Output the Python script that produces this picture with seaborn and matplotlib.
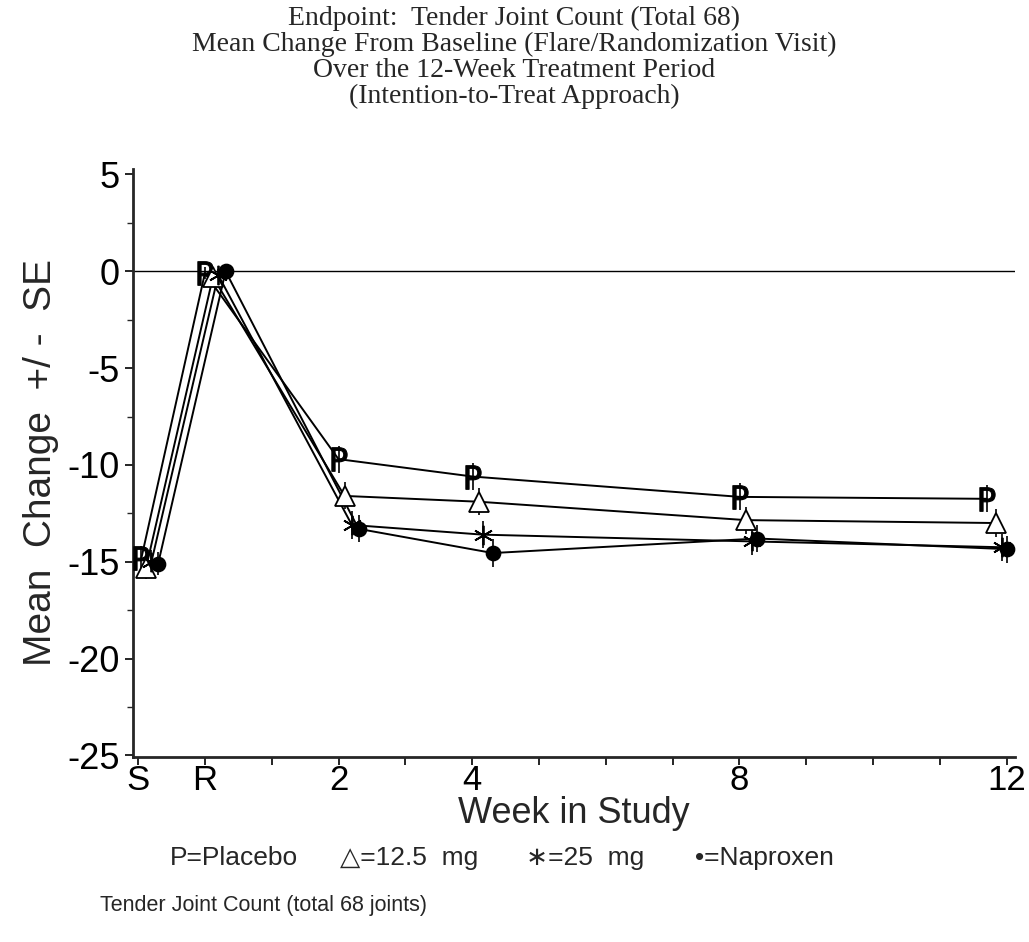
import numpy as np
import pandas as pd
import matplotlib
matplotlib.use("Agg")
import matplotlib.pyplot as plt
import seaborn as sns

# Data
groups = ["Placebo", "12.5 mg", "25 mg", "Naproxen"]
visit_labels = ["S", "R", "2", "4", "8", "12"]
visit_pos = [-1, 0, 2, 4, 8, 12]

week_placebo = [-0.95, 0.0, 2.0, 4.01, 8.01, 11.7]
week_125 = [-0.88, 0.12, 2.09, 4.1, 8.1, 11.84]
week_25 = [-0.8, 0.2, 2.2, 4.16, 8.19, 11.93]
week_naproxen = [-0.7, 0.31, 2.3, 4.31, 8.27, 12.01]

mean_placebo = [-14.8, -0.1, -9.7, -10.6, -11.65, -11.75]
mean_125 = [-15.3, -0.3, -11.6, -11.9, -12.85, -13.0]
mean_25 = [-15.0, -0.2, -13.1, -13.6, -13.95, -14.25]
mean_naproxen = [-15.1, 0.0, -13.3, -14.55, -13.8, -14.35]

se_placebo = [0.6, 0.3, 0.7, 0.7, 0.7, 0.7]
se_125 = [0.6, 0.3, 0.7, 0.7, 0.7, 0.7]
se_25 = [0.6, 0.3, 0.7, 0.7, 0.7, 0.7]
se_naproxen = [0.6, 0.3, 0.7, 0.7, 0.7, 0.7]

legend_entries = ["P=Placebo", "\u25b3=12.5  mg", "\u2217=25  mg", "\u2022=Naproxen"]

title_lines = [
    "Endpoint:  Tender Joint Count (Total 68)",
    "Mean Change From Baseline (Flare/Randomization Visit)",
    "Over the 12-Week Treatment Period",
    "(Intention-to-Treat Approach)",
]

df = pd.DataFrame({
    "group": np.repeat(groups, len(visit_pos)),
    "week": week_placebo + week_125 + week_25 + week_naproxen,
    "change": mean_placebo + mean_125 + mean_25 + mean_naproxen,
    "se": se_placebo + se_125 + se_25 + se_naproxen,
})

sns.set_style("ticks")
plt.rcParams["font.family"] = ["Liberation Sans", "DejaVu Sans"]
plt.rcParams["axes.unicode_minus"] = False

fig = plt.figure(figsize=(10.29, 9.42), dpi=100)
ax = fig.add_axes([0.129, 0.196, 0.857, 0.625])

ax.axhline(0, color="black", lw=1.0, zorder=1)

markers = {
    "Placebo": "$\\mathrm{P}$",
    "12.5 mg": "^",
    "25 mg": (6, 2, 0),
    "Naproxen": "o",
}
sizes = {"Placebo": 17, "12.5 mg": 14, "25 mg": 14, "Naproxen": 10}

for g in groups:
    sub = df[df["group"] == g]
    sns.lineplot(data=sub, x="week", y="change", color="black", lw=1.4,
                 sort=False, estimator=None, ax=ax, zorder=2)
    ax.vlines(sub["week"], sub["change"] - sub["se"], sub["change"] + sub["se"],
              color="black", lw=1.2, zorder=3)
    face = "white" if g == "12.5 mg" else "black"
    ax.plot(sub["week"], sub["change"], ls="none", marker=markers[g],
            ms=sizes[g], mfc=face, mec="black", mew=1.3 if g != "Placebo" else 0.8,
            zorder=4)

ax.set_xlim(-1.08, 12.12)
ax.set_ylim(-25.1, 5.3)
ax.set_xticks(np.arange(-1, 13))
ax.set_xticklabels(["S", "R", "", "2", "", "4", "", "", "", "8", "", "", "", "12"])
ax.set_yticks([5, 0, -5, -10, -15, -20, -25])
ax.set_yticks(np.arange(-25, 5.1, 2.5), minor=True)
ax.tick_params(axis="both", labelsize=26, direction="out", length=6, width=1.2,
               colors="black")
ax.tick_params(axis="x", labelsize=25, pad=-1)
ax.tick_params(axis="y", which="minor", length=4, width=1.0)

ax.set_xlabel("Week in Study", fontsize=26, labelpad=-1)
ax.set_ylabel("Mean  Change  +/ -  SE", fontsize=28, labelpad=6)

for side in ["top", "right"]:
    ax.spines[side].set_visible(False)
for side in ["left", "bottom"]:
    ax.spines[side].set_linewidth(2.0)

title_y = [0.980, 0.953, 0.925, 0.898]
for line, yy in zip(title_lines, title_y):
    fig.text(0.5, yy, line, ha="center", va="center", fontsize=20,
             family=["Liberation Serif", "DejaVu Serif"])

legend_x = [0.165, 0.330, 0.511, 0.675]
for entry, xx in zip(legend_entries, legend_x):
    fig.text(xx, 0.089, entry, ha="left", va="center", fontsize=19)
fig.text(0.097, 0.039, "Tender Joint Count (total 68 joints)",
         ha="left", va="center", fontsize=15.5)

fig.savefig("out.png", dpi=100)
